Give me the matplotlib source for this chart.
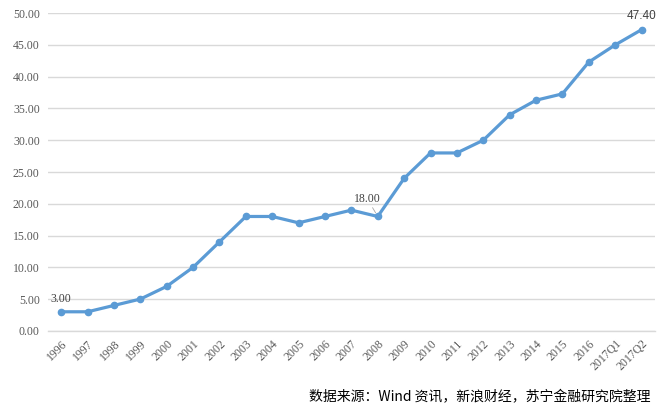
import matplotlib
matplotlib.use("Agg")
import matplotlib.pyplot as plt
import numpy as np

years = ["1996", "1997", "1998", "1999", "2000", "2001", "2002", "2003", "2004",
         "2005", "2006", "2007", "2008", "2009", "2010", "2011", "2012", "2013",
         "2014", "2015", "2016", "2017Q1", "2017Q2"]
values = [3, 3, 4, 5, 7, 10, 14, 18, 18, 17, 18, 19, 18, 24, 28, 28, 30, 34,
          36.3, 37.3, 42.3, 45, 47.4]
yticks = [0, 5, 10, 15, 20, 25, 30, 35, 40, 45, 50]

fig = plt.figure(figsize=(6.58, 4.12), dpi=100)
ax = fig.add_axes([0.073, 0.197, 0.922, 0.771])

x = np.arange(len(years))
ax.plot(x, values, color="#5B9BD5", lw=2.3, marker="o", ms=4.5, zorder=3)

ax.set_xlim(-0.5, len(years) - 0.5)
ax.set_ylim(0, 50)
ax.set_yticks(yticks)
ax.set_yticklabels(["%.2f" % v for v in yticks], family="Liberation Serif",
                   fontsize=8.5, color="#595959")
ax.set_xticks(x)
ax.set_xticklabels(years, rotation=45, ha="right", rotation_mode="anchor",
                   family="Liberation Serif", fontsize=8.5, color="#595959")
ax.tick_params(axis="y", length=0, pad=6)
ax.tick_params(axis="x", length=0, pad=5)
ax.grid(axis="y", color="#D9D9D9", lw=1)
ax.set_axisbelow(True)
for s in ["top", "right", "left"]:
    ax.spines[s].set_visible(False)
ax.spines["bottom"].set_color("#D9D9D9")
ax.spines["bottom"].set_linewidth(1)

lab = dict(family="Liberation Serif", fontsize=8.5, color="#404040")
ax.text(x[0] - 0.4, values[0] + 1.5, "%.2f" % values[0], **lab)
ax.annotate("%.2f" % values[12], xy=(x[12], values[12]), xytext=(x[11] + 0.1, values[12] + 2.3),
            arrowprops=dict(arrowstyle="-", color="#A6A6A6", lw=0.6,
                            shrinkA=0, shrinkB=3), **lab)
ax.text(x[-1], values[-1] + 1.7, "%.2f" % values[-1], ha="center",
        family="Liberation Sans", fontsize=8.5, color="#404040")

fig.text(0.988, 0.018, "数据来源：Wind 资讯，新浪财经，苏宁金融研究院整理",
         ha="right", va="bottom", fontsize=10, color="#000000",
         family=["Noto Sans CJK SC", "DejaVu Sans"], style="italic")

fig.savefig("out.png", dpi=100)
